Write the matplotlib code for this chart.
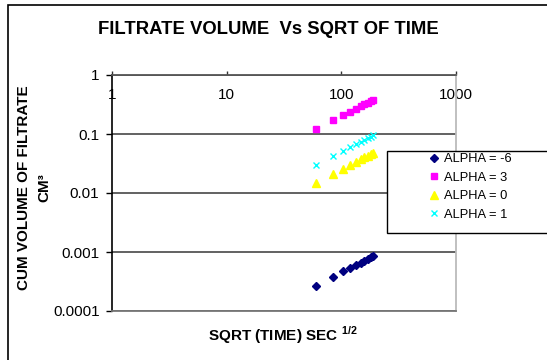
import matplotlib
matplotlib.use("Agg")
import matplotlib.pyplot as plt
from matplotlib.patches import Rectangle
from matplotlib.ticker import FixedLocator, FixedFormatter, NullLocator

plt.rcParams['font.family'] = ['Liberation Sans', 'DejaVu Sans']
plt.rcParams['mathtext.fontset'] = 'custom'
plt.rcParams['mathtext.rm'] = 'Liberation Sans'
plt.rcParams['mathtext.bf'] = 'Liberation Sans:bold'

# Data
sqrt_time = [60.0, 84.85, 103.9, 120.0, 134.2, 147.0, 158.7, 169.7, 180.0, 189.7]
alpha_m6 = [0.00027, 0.00038, 0.00047, 0.00054, 0.00060, 0.00066, 0.00071, 0.00076, 0.00081, 0.00085]
alpha_3 = [0.12, 0.17, 0.208, 0.24, 0.268, 0.294, 0.317, 0.339, 0.36, 0.379]
alpha_0 = [0.015, 0.021, 0.026, 0.030, 0.0335, 0.037, 0.040, 0.042, 0.045, 0.047]
alpha_1 = [0.030, 0.042, 0.052, 0.060, 0.067, 0.0735, 0.079, 0.085, 0.090, 0.095]
series_labels = ['ALPHA = -6', 'ALPHA = 3', 'ALPHA = 0', 'ALPHA = 1']
x_ticks = [1, 10, 100, 1000]
x_tick_labels = ['1', '10', '100', '1000']
y_ticks = [0.0001, 0.001, 0.01, 0.1, 1]
y_tick_labels = ['0.0001', '0.001', '0.01', '0.1', '1']

W, H = 547, 360
fig = plt.figure(figsize=(W / 100, H / 100), dpi=100)
ax = fig.add_axes([112 / W, 1 - 311 / H, (456 - 112) / W, (311 - 75) / H])

ax.plot(sqrt_time, alpha_m6, linestyle='none', marker='D', ms=4.5, color='#000080', label=series_labels[0])
ax.plot(sqrt_time, alpha_3, linestyle='none', marker='s', ms=4.8, color='#FF00FF', label=series_labels[1])
ax.plot(sqrt_time, alpha_0, linestyle='none', marker='^', ms=5.5, color='#FFFF00', label=series_labels[2])
ax.plot(sqrt_time, alpha_1, linestyle='none', marker='x', ms=5, mew=1.0, color='#00FFFF', label=series_labels[3])

ax.set_xscale('log')
ax.set_yscale('log')
ax.set_xlim(1, 1000)
ax.set_ylim(0.0001, 1)

ax.xaxis.set_major_locator(FixedLocator(x_ticks))
ax.xaxis.set_major_formatter(FixedFormatter(x_tick_labels))
ax.xaxis.set_minor_locator(NullLocator())
ax.yaxis.set_major_locator(FixedLocator(y_ticks))
ax.yaxis.set_major_formatter(FixedFormatter(y_tick_labels))
ax.yaxis.set_minor_locator(NullLocator())

ax.tick_params(axis='x', top=True, bottom=False, labeltop=True, labelbottom=False,
               direction='out', length=3, width=1, color='#333333', pad=-22.5, labelsize=11)
ax.tick_params(axis='y', left=True, right=False, direction='out', length=4, width=1,
               color='black', pad=5, labelsize=11)

ax.yaxis.grid(True, color='#555555', linewidth=1.3)
ax.set_axisbelow(True)

ax.spines['left'].set_color('black')
ax.spines['left'].set_linewidth(1.2)
ax.spines['top'].set_color('#555555')
ax.spines['top'].set_linewidth(1.3)
ax.spines['bottom'].set_color('#777777')
ax.spines['bottom'].set_linewidth(1.3)
ax.spines['right'].set_color('#bbbbbb')
ax.spines['right'].set_linewidth(1.3)

# outer frame
fig.patches.append(Rectangle((8 / W, -0.1), 1.2, 1 - 5 / H + 0.1, transform=fig.transFigure,
                             fill=False, edgecolor='black', linewidth=1.2))

fig.text(268 / W, 1 - 30 / H, 'FILTRATE VOLUME  Vs SQRT OF TIME', ha='center', va='center',
         fontsize=13.3, fontweight='bold')
fig.text(283 / W, 1 - 335 / H, r'SQRT (TIME) SEC $^{\mathbf{1/2}}$', ha='center', va='center',
         fontsize=11, fontweight='bold')
fig.text(34 / W, 1 - 188 / H, 'CUM VOLUME OF FILTRATE\nCM³', ha='center', va='center',
         rotation=90, fontsize=11, fontweight='bold', multialignment='center', linespacing=1.55)

# legend frame and legend
fig.patches.append(Rectangle((387 / W, 1 - 233 / H), 220 / W, 82 / H, transform=fig.transFigure,
                             facecolor='white', edgecolor='black', linewidth=1.0, zorder=3))
leg = fig.legend(loc='upper left', bbox_to_anchor=(428 / W, 1 - 153 / H), frameon=False,
                 fontsize=9.3, handlelength=1.0, handletextpad=0.2, borderpad=0, borderaxespad=0,
                 labelspacing=0.5, markerscale=1.0)
leg.set_zorder(4)

fig.savefig('out.png', dpi=100)
